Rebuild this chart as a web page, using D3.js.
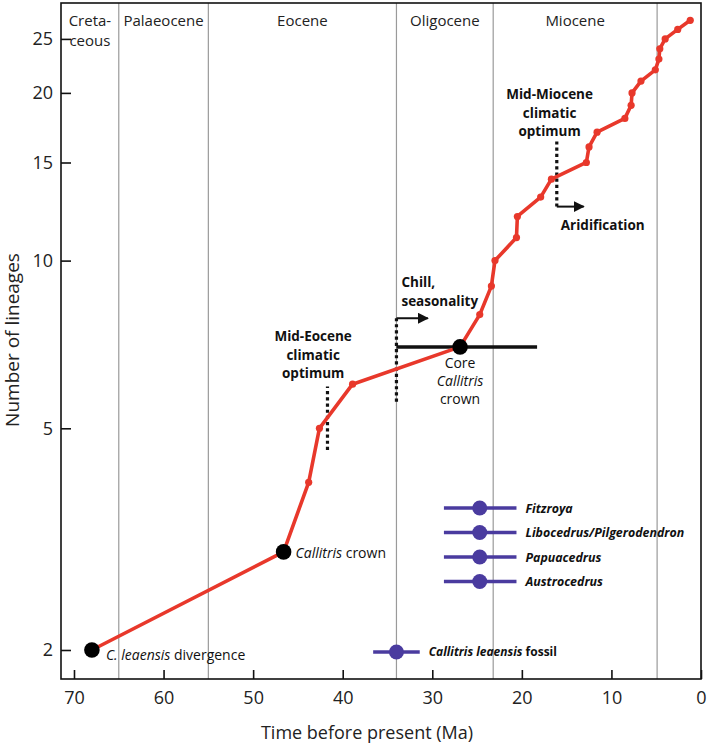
<!DOCTYPE html>
<html><head><meta charset="utf-8">
<script src="https://cdn.jsdelivr.net/npm/d3@7"></script>
<style>
body{margin:0;background:#fff;}
svg{display:block;font-family:"Open Sans",sans-serif;}
</style></head>
<body><svg id="c" width="709" height="744"></svg>
<script>
// ---- data ----
const epochBounds = [65, 55, 34, 23.2, 4.9];
const epochNames = [["Creta-","ceous"],["Palaeocene"],["Eocene"],["Oligocene"],["Miocene"]];
const epochEdges = [71.45, 65, 55, 34, 23.2, 4.9];
const ages = [68.0, 46.6, 43.8, 42.6, 38.9, 26.9, 24.7, 23.4, 23.0, 20.6, 20.5, 17.9, 16.7, 12.8, 12.5, 11.6, 8.5, 7.8, 7.7, 6.7, 5.1, 4.7, 4.6, 4.0, 2.6, 1.2];
const lineages = [2, 3, 4, 5, 6, 7, 8, 9, 10, 11, 12, 13, 14, 15, 16, 17, 18, 19, 20, 21, 22, 23, 24, 25, 26, 27];
const xTicks = [70, 60, 50, 40, 30, 20, 10, 0];
const yTicks = [2, 5, 10, 15, 20, 25];
const keyNodeAges = [68.0, 46.6, 26.9];
const keyNodeLineages = [2, 3, 7];
const coreCrownRange = [34, 18.3];
const fossilNames = ["Fitzroya", "Libocedrus/Pilgerodendron", "Papuacedrus", "Austrocedrus"];
const fossilAge = [24.7, 24.7, 24.7, 24.7];
const fossilMin = [20.6, 20.6, 20.6, 20.6];
const fossilMax = [28.7, 28.7, 28.7, 28.7];
const leaensisFossil = {age: 34.0, min: 31.4, max: 36.6};

// ---- layout ----
const svg = d3.select("#c");
const L = 61, R = 701, T = 3, B = 679;
const x = d3.scaleLinear().domain([71.45, 0]).range([L, R]);
const y = d3.scaleLog().domain([1.774, 29.0]).range([B, T]);
const RED = "#e8382b", PURPLE = "#4a3b9f";

// epoch boundaries
svg.append("g").selectAll("line").data(epochBounds).join("line")
  .attr("x1", d => x(d)).attr("x2", d => x(d)).attr("y1", T).attr("y2", B)
  .attr("stroke", "#9a9a9a").attr("stroke-width", 1.2);

// epoch labels
const eg = svg.append("g").attr("font-size", 15).attr("fill", "#222").attr("text-anchor", "middle");
epochNames.forEach((lines, i) => {
  const cx = (x(epochEdges[i]) + x(epochEdges[i + 1])) / 2;
  lines.forEach((t, j) => eg.append("text").attr("x", cx).attr("y", 26 + j * 20).text(t));
});

// frame
svg.append("rect").attr("x", L).attr("y", T).attr("width", R - L).attr("height", B - T)
  .attr("fill", "none").attr("stroke", "#111").attr("stroke-width", 1.6);

// axes
const xAxis = d3.axisBottom(x).tickValues(xTicks).tickSize(-9).tickPadding(12).tickFormat(d3.format("d"));
const gx = svg.append("g").attr("transform", `translate(0,${B})`).call(xAxis);
gx.select(".domain").remove();
gx.selectAll("line").attr("stroke", "#111").attr("stroke-width", 1.6);
gx.selectAll("text").attr("font-size", 18).attr("fill", "#222").attr("font-family", "Open Sans");

const yAxis = d3.axisLeft(y).tickValues(yTicks).tickSize(-10).tickPadding(8).tickFormat(d3.format("d"));
const gy = svg.append("g").attr("transform", `translate(${L},0)`).call(yAxis);
gy.select(".domain").remove();
gy.selectAll("line").attr("stroke", "#111").attr("stroke-width", 1.6);
gy.selectAll("text").attr("font-size", 18).attr("fill", "#222").attr("font-family", "Open Sans");

svg.append("text").attr("x", 367).attr("y", 739).attr("text-anchor", "middle")
  .attr("font-size", 18).attr("fill", "#222").text("Time before present (Ma)");
svg.append("text").attr("transform", "translate(19,340) rotate(-90)").attr("text-anchor", "middle")
  .attr("font-size", 19).attr("fill", "#222").text("Number of lineages");

// core crown bar
svg.append("line").attr("x1", x(coreCrownRange[0])).attr("x2", x(coreCrownRange[1]))
  .attr("y1", y(7)).attr("y2", y(7)).attr("stroke", "#111").attr("stroke-width", 3.5);

// dotted climate markers
function dotted(age, n1, n2) {
  svg.append("line").attr("x1", x(age)).attr("x2", x(age)).attr("y1", y(n1)).attr("y2", y(n2))
    .attr("stroke", "#111").attr("stroke-width", 3.2).attr("stroke-dasharray", "3.2 3");
}
dotted(41.7, 4.57, 5.94);
dotted(34.0, 5.58, 7.88);
dotted(16.1, 12.5, 16.4);

// arrows
const defs = svg.append("defs");
defs.append("marker").attr("id", "arr").attr("viewBox", "0 0 10 10").attr("refX", 9).attr("refY", 5)
  .attr("markerWidth", 5.5).attr("markerHeight", 5.5).attr("markerUnits", "strokeWidth").attr("orient", "auto")
  .append("path").attr("d", "M0,0 L10,5 L0,10 z").attr("fill", "#111");
function arrow(a1, a2, n) {
  svg.append("line").attr("x1", x(a1)).attr("x2", x(a2)).attr("y1", y(n)).attr("y2", y(n))
    .attr("stroke", "#111").attr("stroke-width", 2).attr("marker-end", "url(#arr)");
}
arrow(34.0, 30.5, 7.88);
arrow(16.1, 13.1, 12.5);

// LTT line
const pts = ages.map((a, i) => [a, lineages[i]]);
svg.append("path").datum(pts)
  .attr("d", d3.line().x(d => x(d[0])).y(d => y(d[1])))
  .attr("fill", "none").attr("stroke", RED).attr("stroke-width", 3.6).attr("stroke-linejoin", "round");
svg.append("g").selectAll("circle").data(pts).join("circle")
  .attr("cx", d => x(d[0])).attr("cy", d => y(d[1])).attr("r", 3.6).attr("fill", RED);

// key nodes
svg.append("g").selectAll("circle").data(keyNodeAges).join("circle")
  .attr("cx", d => x(d)).attr("cy", (d, i) => y(keyNodeLineages[i])).attr("r", 7.8).attr("fill", "#000");

// labels on nodes
const t1 = svg.append("text").attr("x", x(68.0) + 14).attr("y", y(2) + 10).attr("font-size", 14).attr("fill", "#111");
t1.append("tspan").attr("font-style", "italic").text("C. leaensis");
t1.append("tspan").text(" divergence");
const t2 = svg.append("text").attr("x", x(46.6) + 12).attr("y", y(3) + 6).attr("font-size", 14).attr("fill", "#111");
t2.append("tspan").attr("font-style", "italic").text("Callitris");
t2.append("tspan").text(" crown");
const coreG = svg.append("g").attr("font-size", 14).attr("fill", "#111").attr("text-anchor", "middle");
coreG.append("text").attr("x", x(26.9)).attr("y", y(7) + 21).text("Core");
coreG.append("text").attr("x", x(26.9)).attr("y", y(7) + 39).attr("font-style", "italic").text("Callitris");
coreG.append("text").attr("x", x(26.9)).attr("y", y(7) + 57).text("crown");

// climate annotations
function block(lines, px, py, anchor) {
  const g = svg.append("g").attr("font-size", 13.5).attr("font-weight", "bold").attr("fill", "#111").attr("text-anchor", anchor);
  lines.forEach((t, j) => g.append("text").attr("x", px).attr("y", py + j * 18.5).text(t));
}
block(["Mid-Eocene", "climatic", "optimum"], x(43.3), 341, "middle");
block(["Chill,", "seasonality"], x(34.0) + 5, 287, "start");
block(["Mid-Miocene", "climatic", "optimum"], x(16.9), 99, "middle");
block(["Aridification"], x(16.1) + 4, 230, "start");

// fossil calibrations
const fg = svg.append("g");
fossilNames.forEach((nm, i) => {
  const py = 508 + i * 24.5;
  fg.append("line").attr("x1", x(fossilMax[i])).attr("x2", x(fossilMin[i])).attr("y1", py).attr("y2", py)
    .attr("stroke", PURPLE).attr("stroke-width", 3.6);
  fg.append("circle").attr("cx", x(fossilAge[i])).attr("cy", py).attr("r", 7.5).attr("fill", PURPLE);
  fg.append("text").attr("x", x(fossilMin[i]) + 9).attr("y", py + 4.5).attr("font-size", 12.4)
    .attr("font-weight", "bold").attr("font-style", "italic").attr("fill", "#111").text(nm);
});
{
  const py = y(2) + 2;
  fg.append("line").attr("x1", x(leaensisFossil.max)).attr("x2", x(leaensisFossil.min)).attr("y1", py).attr("y2", py)
    .attr("stroke", PURPLE).attr("stroke-width", 3.6);
  fg.append("circle").attr("cx", x(leaensisFossil.age)).attr("cy", py).attr("r", 7.5).attr("fill", PURPLE);
  const t = fg.append("text").attr("x", x(leaensisFossil.min) + 9).attr("y", py + 4.5).attr("font-size", 12)
    .attr("font-weight", "bold").attr("fill", "#111");
  t.append("tspan").attr("font-style", "italic").text("Callitris leaensis");
  t.append("tspan").text(" fossil");
}
</script></body></html>
